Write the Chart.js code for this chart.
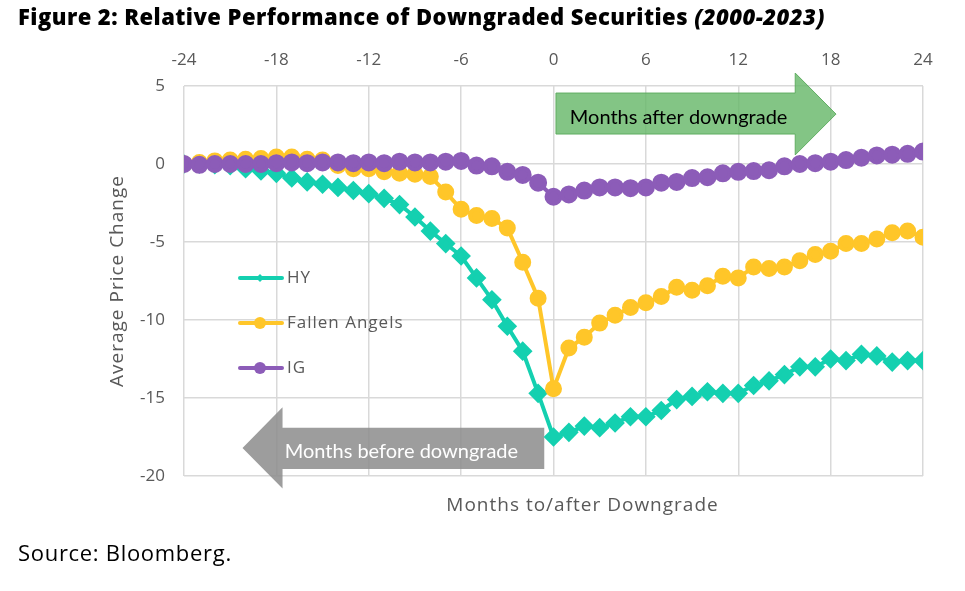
<!DOCTYPE html>
<html>
<head>
<meta charset="utf-8">
<script src="https://cdn.jsdelivr.net/npm/chart.js@4.4.1/dist/chart.umd.min.js"></script>
<style>
    body { margin: 0; background: #fff; }
    #wrap { position: relative; width: 965px; height: 591px; }
    #chart { position: absolute; left: 0; top: 0; }
    #title { position: absolute; left: 18px; top: 1px; font-family: "Open Sans", sans-serif; font-weight: 800; font-size: 22px; letter-spacing: 0.45px; color: #000; white-space: nowrap; }
    #title i { font-weight: 800; }
    #source { position: absolute; left: 18px; top: 537px; font-family: "Open Sans", sans-serif; font-size: 22px; letter-spacing: 0.7px; color: #000; }
</style>
</head>
<body>
<div id="wrap">
    <canvas id="chart" width="965" height="591"></canvas>
    <div id="title">Figure 2: Relative Performance of Downgraded Securities <i>(2000-2023)</i></div>
    <div id="source">Source: Bloomberg.</div>
</div>
<script>
const months = [-24, -23, -22, -21, -20, -19, -18, -17, -16, -15, -14, -13, -12, -11, -10, -9, -8, -7, -6, -5, -4, -3, -2, -1,
    0, 1, 2, 3, 4, 5, 6, 7, 8, 9, 10, 11, 12, 13, 14, 15, 16, 17, 18, 19, 20, 21, 22, 23, 24];
const hyValues = [0, 0, -0.05, -0.1, -0.3, -0.45, -0.6, -0.9, -1.15, -1.3, -1.5, -1.7, -1.9, -2.2, -2.6, -3.4, -4.3, -5.1, -5.9, -7.3, -8.7, -10.4, -12.0, -14.7,
    -17.5, -17.2, -16.8, -16.9, -16.6, -16.2, -16.2, -15.8, -15.1, -14.9, -14.6, -14.7, -14.7, -14.2, -13.9, -13.5, -13.0, -13.0, -12.5, -12.6, -12.2, -12.3, -12.7, -12.6, -12.6];
const faValues = [0, 0.1, 0.2, 0.25, 0.3, 0.35, 0.45, 0.45, 0.3, 0.25, -0.1, -0.3, -0.3, -0.5, -0.6, -0.65, -0.8, -1.8, -2.9, -3.3, -3.5, -4.1, -6.3, -8.6,
    -14.4, -11.8, -11.1, -10.2, -9.7, -9.2, -8.9, -8.5, -7.9, -8.1, -7.8, -7.2, -7.3, -6.6, -6.7, -6.6, -6.2, -5.8, -5.6, -5.1, -5.1, -4.8, -4.4, -4.3, -4.7];
const igValues = [0, -0.05, 0, 0, 0, 0, 0.05, 0.1, 0.05, 0.1, 0.1, 0.05, 0.1, 0.05, 0.15, 0.1, 0.1, 0.15, 0.2, -0.1, -0.15, -0.5, -0.7, -1.2,
    -2.1, -1.95, -1.7, -1.5, -1.5, -1.55, -1.5, -1.2, -1.15, -0.9, -0.85, -0.6, -0.5, -0.45, -0.4, -0.15, 0, 0.05, 0.15, 0.25, 0.4, 0.55, 0.6, 0.65, 0.8];
const seriesNames = ['HY', 'Fallen Angels', 'IG'];
const seriesColors = ['#14D0B0', '#FFC629', '#8C5CB8'];
const xTicks = [-24, -18, -12, -6, 0, 6, 12, 18, 24];
const yTicks = [5, 0, -5, -10, -15, -20];

const FONT = '"Open Sans", Lato, sans-serif';
const ARROW_FONT = 'Lato, "Open Sans", sans-serif';
const TEXT_GRAY = '#595959';

function toPoints(values) {
    return months.map((m, i) => ({ x: m, y: values[i] }));
}

// arrows, legend and axis captions drawn on top of the grid
const overlayPlugin = {
    id: 'overlay',
    beforeDatasetsDraw(chart) {
        const ctx = chart.ctx;
        const xs = chart.scales.x;
        const ys = chart.scales.y;
        const X = v => xs.getPixelForValue(v);
        const Y = v => ys.getPixelForValue(v);

        // green arrow (after)
        ctx.save();
        ctx.beginPath();
        ctx.moveTo(X(0.16), Y(4.55));
        ctx.lineTo(X(15.7), Y(4.55));
        ctx.lineTo(X(15.7), Y(5.83));
        ctx.lineTo(X(18.35), Y(3.2));
        ctx.lineTo(X(15.7), Y(0.58));
        ctx.lineTo(X(15.7), Y(1.92));
        ctx.lineTo(X(0.16), Y(1.92));
        ctx.closePath();
        ctx.fillStyle = 'rgba(104, 184, 106, 0.82)';
        ctx.fill();
        ctx.strokeStyle = 'rgba(90, 170, 92, 0.9)';
        ctx.lineWidth = 1;
        ctx.stroke();
        ctx.fillStyle = '#000';
        ctx.font = '20px ' + ARROW_FONT;
        ctx.textAlign = 'center';
        ctx.textBaseline = 'alphabetic';
        ctx.fillText('Months after downgrade', (X(0.16) + X(15.7)) / 2 + 3, Y(3.2) + 10);

        // gray arrow (before)
        ctx.beginPath();
        ctx.moveTo(X(-0.6), Y(-16.9));
        ctx.lineTo(X(-17.6), Y(-16.9));
        ctx.lineTo(X(-17.6), Y(-15.6));
        ctx.lineTo(X(-20.2), Y(-18.2));
        ctx.lineTo(X(-17.6), Y(-20.8));
        ctx.lineTo(X(-17.6), Y(-19.55));
        ctx.lineTo(X(-0.6), Y(-19.55));
        ctx.closePath();
        ctx.fillStyle = 'rgba(140, 140, 140, 0.85)';
        ctx.fill();
        ctx.fillStyle = '#fff';
        ctx.fillText('Months before downgrade', (X(-17.6) + X(-0.6)) / 2 - 12, Y(-18.2) + 10);
        ctx.restore();
    },
    afterDraw(chart) {
        const ctx = chart.ctx;
        const area = chart.chartArea;
        ctx.save();
        ctx.fillStyle = TEXT_GRAY;
        ctx.font = '19px ' + FONT;
        ctx.letterSpacing = '1px';
        ctx.textAlign = 'center';
        ctx.textBaseline = 'middle';
        ctx.fillText('Months to/after Downgrade', (area.left + area.right) / 2 + 29, 506);
        ctx.translate(118, (area.top + area.bottom) / 2);
        ctx.rotate(-Math.PI / 2);
        ctx.fillText('Average Price Change', 0, 0);
        ctx.restore();

        // legend
        ctx.save();
        const legendY = [278, 323, 368];
        seriesNames.forEach((name, i) => {
            const y = legendY[i];
            ctx.strokeStyle = seriesColors[i];
            ctx.lineWidth = 4;
            ctx.lineCap = 'round';
            ctx.beginPath();
            ctx.moveTo(240, y);
            ctx.lineTo(282, y);
            ctx.stroke();
            ctx.fillStyle = seriesColors[i];
            ctx.beginPath();
            if (i === 0) {
                ctx.moveTo(260, y - 4);
                ctx.lineTo(264, y);
                ctx.lineTo(260, y + 4);
                ctx.lineTo(256, y);
            } else {
                ctx.arc(260, y, 6, 0, Math.PI * 2);
            }
            ctx.fill();
            ctx.fillStyle = TEXT_GRAY;
            ctx.font = '17px ' + FONT;
            ctx.letterSpacing = '1px';
            ctx.textAlign = 'left';
            ctx.textBaseline = 'middle';
            ctx.fillText(name, 287, y);
        });
        ctx.restore();
    }
};

const datasets = [
    { label: seriesNames[0], data: toPoints(hyValues), borderColor: seriesColors[0], backgroundColor: seriesColors[0],
      borderWidth: 4, pointStyle: 'rectRot', pointRadius: 7, order: 2 },
    { label: seriesNames[1], data: toPoints(faValues), borderColor: seriesColors[1], backgroundColor: seriesColors[1],
      borderWidth: 4, pointStyle: 'circle', pointRadius: 6.5, order: 1 },
    { label: seriesNames[2], data: toPoints(igValues), borderColor: seriesColors[2], backgroundColor: seriesColors[2],
      borderWidth: 4, pointStyle: 'circle', pointRadius: 7, order: 0 }
];

new Chart(document.getElementById('chart'), {
    type: 'line',
    data: { datasets: datasets },
    options: {
        responsive: false,
        animation: false,
        layout: { padding: { left: 0, top: 0, right: 42, bottom: 115 } },
        plugins: { legend: { display: false }, tooltip: { enabled: false } },
        elements: { line: { tension: 0 }, point: { borderWidth: 0 } },
        scales: {
            x: {
                type: 'linear',
                position: 'top',
                min: -24,
                max: 24,
                afterFit: scale => { scale.height = 86; },
                afterBuildTicks: scale => { scale.ticks = xTicks.map(v => ({ value: v })); },
                grid: { color: '#D9D9D9', lineWidth: 1.5, tickLength: 0 },
                border: { display: false },
                ticks: { color: TEXT_GRAY, font: { family: FONT, size: 17 }, padding: 16, maxRotation: 0 }
            },
            y: {
                min: -20,
                max: 5,
                afterFit: scale => { scale.width = 184; },
                afterBuildTicks: scale => { scale.ticks = yTicks.map(v => ({ value: v })); },
                grid: { color: '#D9D9D9', lineWidth: 1.5, tickLength: 0 },
                border: { display: false },
                ticks: { color: TEXT_GRAY, font: { family: FONT, size: 17 }, padding: 19 }
            }
        }
    },
    plugins: [overlayPlugin]
});
</script>
</body>
</html>
